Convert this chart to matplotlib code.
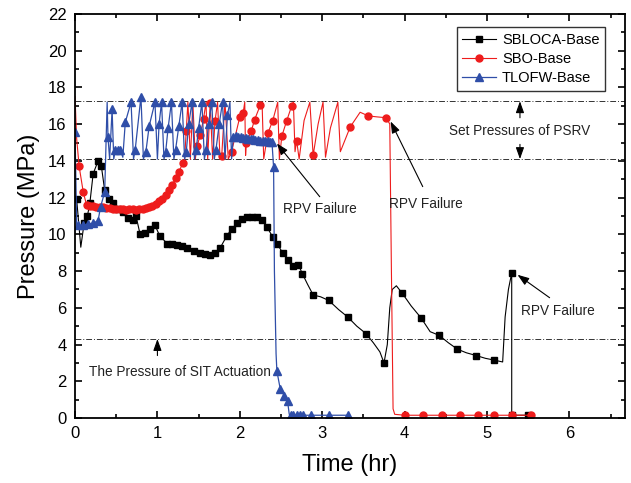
import matplotlib
matplotlib.use('Agg')
import matplotlib.pyplot as plt
from matplotlib.ticker import MultipleLocator

plt.rcParams['font.family'] = ['Liberation Sans', 'DejaVu Sans']

# SBLOCA-Base (black squares); mark = 1 -> marker drawn on that point
sbloca_x = [0.02, 0.07, 0.11, 0.15, 0.18, 0.22, 0.28, 0.32, 0.36, 0.41, 0.46, 0.52, 0.58, 0.64, 0.70,
            0.74, 0.79, 0.85, 0.91, 0.97, 1.03, 1.12, 1.18, 1.24, 1.30, 1.36, 1.44, 1.52, 1.58, 1.64,
            1.70, 1.76, 1.84, 1.90, 1.97, 2.03, 2.09, 2.15, 2.21, 2.27, 2.33, 2.40, 2.45, 2.52, 2.58,
            2.65, 2.71, 2.76, 2.82, 2.89, 2.98, 3.08, 3.20, 3.31, 3.42, 3.53, 3.62, 3.70, 3.75, 3.79,
            3.82, 3.85, 3.90, 3.97, 4.08, 4.20, 4.31, 4.42, 4.53, 4.64, 4.75, 4.87, 4.98, 5.09, 5.19,
            5.22, 5.26, 5.30, 5.30, 5.50]
sbloca_y = [11.9, 9.3, 10.6, 11.0, 11.7, 13.3, 14.0, 13.7, 12.4, 11.9, 11.7, 11.4, 11.2, 10.9, 10.8,
            11.0, 10.0, 10.1, 10.3, 10.5, 9.9, 9.5, 9.5, 9.4, 9.35, 9.25, 9.1, 9.0, 8.95, 8.9,
            9.0, 9.25, 9.9, 10.3, 10.6, 10.85, 10.95, 10.95, 10.95, 10.8, 10.4, 9.85, 9.5, 9.0, 8.6,
            8.3, 8.35, 7.85, 7.3, 6.7, 6.6, 6.4, 5.9, 5.5, 5.0, 4.6, 4.1, 3.6, 3.0, 4.0,
            6.0, 7.0, 7.2, 6.8, 6.1, 5.45, 4.7, 4.5, 4.1, 3.75, 3.55, 3.4, 3.25, 3.15, 3.05,
            5.5, 7.0, 7.9, 0.15, 0.15]
sbloca_mark = [1, 0, 1, 1, 1, 1, 1, 1, 1, 1, 1, 1, 1, 1, 1,
               1, 1, 1, 1, 1, 1, 1, 1, 1, 1, 1, 1, 1, 1, 1,
               1, 1, 1, 1, 1, 1, 1, 1, 1, 1, 1, 1, 1, 1, 1,
               1, 1, 1, 0, 1, 0, 1, 0, 1, 0, 1, 0, 0, 1, 0,
               0, 0, 0, 1, 0, 1, 0, 1, 0, 1, 0, 1, 0, 1, 0,
               0, 0, 1, 1, 1]

# SBO-Base (red circles)
sbo_x = [0.00, 0.02, 0.05, 0.10, 0.14, 0.18, 0.22, 0.26, 0.30, 0.34, 0.38, 0.42, 0.46, 0.50, 0.54,
         0.58, 0.62, 0.66, 0.70, 0.74, 0.78, 0.82, 0.86, 0.90, 0.94, 0.98, 1.02, 1.06, 1.10, 1.14,
         1.18, 1.22, 1.26, 1.31, 1.33, 1.35, 1.37, 1.40, 1.43, 1.46, 1.48, 1.52, 1.56, 1.59, 1.61,
         1.64, 1.67, 1.70, 1.73, 1.76, 1.78, 1.82, 1.86, 1.90, 2.00, 2.04, 2.06, 2.07, 2.08, 2.14,
         2.18, 2.25, 2.27, 2.29, 2.34, 2.40, 2.46, 2.48, 2.51, 2.57, 2.63, 2.65, 2.67, 2.69, 2.72,
         2.78, 2.85, 2.89, 2.95, 3.01, 3.04, 3.10, 3.19, 3.22, 3.34, 3.46, 3.56, 3.66, 3.78, 3.82,
         3.84, 3.86, 3.88, 4.00, 4.22, 4.45, 4.67, 4.89, 5.09, 5.30, 5.53]
sbo_y = [17.5, 15.2, 13.7, 12.3, 11.6, 11.55, 11.55, 11.5, 11.5, 11.5, 11.45, 11.45, 11.4, 11.4, 11.4,
         11.4, 11.35, 11.4, 11.4, 11.35, 11.4, 11.4, 11.45, 11.5, 11.55, 11.65, 11.8, 11.95, 12.15, 12.4,
         12.7, 13.05, 13.4, 13.9, 14.1, 15.65, 17.2, 14.1, 17.2, 14.1, 14.8, 15.4, 16.3, 17.2, 14.1,
         17.15, 14.1, 16.2, 17.2, 14.1, 14.25, 17.2, 14.1, 14.5, 16.4, 16.6, 17.2, 14.3, 15.0, 15.65,
         16.25, 17.05, 17.2, 14.1, 15.5, 16.2, 17.2, 14.1, 15.35, 16.2, 17.0, 17.2, 14.5, 15.1, 14.1,
         16.2, 17.2, 14.3, 16.0, 17.2, 14.2, 15.8, 17.2, 14.5, 15.85, 16.65, 16.45, 16.4, 16.35, 16.0,
         8.0, 0.5, 0.2, 0.15, 0.15, 0.15, 0.15, 0.15, 0.15, 0.15, 0.15]
sbo_mark = [0, 0, 1, 1, 1, 1, 1, 1, 1, 1, 1, 1, 1, 1, 1,
            1, 1, 1, 1, 1, 1, 1, 1, 1, 1, 1, 1, 1, 1, 1,
            1, 1, 1, 1, 0, 1, 0, 0, 0, 0, 1, 1, 1, 0, 0,
            1, 0, 1, 0, 0, 1, 0, 0, 1, 1, 1, 0, 0, 1, 1,
            1, 1, 0, 0, 1, 1, 0, 0, 1, 1, 1, 0, 0, 1, 0,
            0, 0, 1, 0, 0, 0, 0, 0, 0, 1, 0, 1, 0, 1, 0,
            0, 0, 0, 1, 1, 1, 1, 1, 1, 1, 1]

# TLOFW-Base (blue triangles)
tlofw_x = [0.00, 0.02, 0.04, 0.10, 0.16, 0.22, 0.28, 0.31, 0.36, 0.39, 0.40, 0.42, 0.45, 0.47, 0.49,
           0.52, 0.55, 0.58, 0.61, 0.68, 0.71, 0.73, 0.80, 0.83, 0.86, 0.90, 0.97, 1.00, 1.02, 1.05,
           1.08, 1.10, 1.13, 1.17, 1.20, 1.22, 1.26, 1.30, 1.33, 1.35, 1.38, 1.42, 1.45, 1.47, 1.50,
           1.54, 1.57, 1.59, 1.62, 1.66, 1.69, 1.71, 1.75, 1.79, 1.82, 1.85, 1.88, 1.90, 1.92, 1.95,
           1.98, 2.01, 2.04, 2.07, 2.10, 2.13, 2.16, 2.19, 2.22, 2.25, 2.28, 2.31, 2.34, 2.37, 2.39,
           2.41, 2.42, 2.44, 2.45, 2.49, 2.54, 2.58, 2.60, 2.62, 2.65, 2.69, 2.73, 2.77, 2.86, 3.08,
           3.31]
tlofw_y = [15.6, 10.5, 10.5, 10.5, 10.55, 10.6, 10.75, 11.5, 12.3, 17.2, 15.3, 14.1, 16.8, 14.1, 14.6,
           14.6, 14.6, 14.2, 16.1, 17.2, 14.1, 14.6, 17.5, 14.1, 14.5, 15.9, 17.2, 14.1, 16.0, 17.2,
           14.1, 14.5, 15.8, 17.2, 14.1, 14.6, 15.9, 17.2, 14.1, 14.5, 16.0, 17.2, 14.1, 14.6, 15.8,
           17.2, 14.1, 14.6, 16.0, 17.2, 14.1, 14.6, 16.0, 17.2, 14.1, 16.5, 17.2, 14.1, 15.3, 15.35,
           15.3, 15.3, 15.25, 15.25, 15.2, 15.2, 15.2, 15.15, 15.15, 15.1, 15.1, 15.1, 15.1, 15.05, 15.05,
           13.65, 8.0, 3.5, 2.55, 1.6, 1.2, 0.9, 0.2, 0.15, 0.15, 0.15, 0.15, 0.15, 0.15, 0.15,
           0.15]
tlofw_mark = [1, 0, 1, 1, 1, 1, 1, 1, 1, 0, 1, 0, 1, 0, 1,
              1, 1, 0, 1, 1, 0, 1, 1, 0, 1, 1, 1, 0, 1, 1,
              0, 1, 1, 1, 0, 1, 1, 1, 0, 1, 1, 1, 0, 1, 1,
              1, 0, 1, 1, 1, 0, 1, 1, 1, 0, 1, 0, 0, 1, 1,
              1, 1, 1, 1, 1, 1, 1, 1, 1, 1, 1, 1, 1, 1, 1,
              1, 0, 0, 1, 1, 1, 1, 0, 1, 1, 1, 1, 1, 1, 1,
              1]

psrv_high = 17.25
psrv_low = 14.1
sit_level = 4.3

fig = plt.figure(figsize=(6.31, 4.83), dpi=100)
ax = fig.add_axes([0.1189, 0.1346, 0.8716, 0.8364])

ax.plot(sbloca_x, sbloca_y, color='black', lw=0.8, marker='s', ms=4.3,
        markevery=[bool(m) for m in sbloca_mark], label='SBLOCA-Base')
ax.plot(sbo_x, sbo_y, color='#ee1c1c', lw=0.8, marker='o', ms=5,
        markevery=[bool(m) for m in sbo_mark], label='SBO-Base')
ax.plot(tlofw_x, tlofw_y, color='#2f4ea8', lw=0.9, marker='^', ms=5.5,
        markevery=[bool(m) for m in tlofw_mark], label='TLOFW-Base')

for lvl in [psrv_high, psrv_low, sit_level]:
    ax.axhline(lvl, color='#333333', lw=0.7, ls=(0, (6, 2, 1, 2)), zorder=1)

arrow = dict(arrowstyle='-|>,head_width=0.25,head_length=0.7', color='black', lw=0.8,
             mutation_scale=10, shrinkA=0, shrinkB=0)
fs = 9.8
ax.text(5.4, 15.62, 'Set Pressures of PSRV', fontsize=fs, ha='center', va='center', color='#222222')
ax.annotate('', xy=(5.4, psrv_high), xytext=(5.4, 16.35), arrowprops=arrow)
ax.annotate('', xy=(5.4, psrv_low), xytext=(5.4, 14.9), arrowprops=arrow)

ax.text(1.27, 2.5, 'The Pressure of SIT Actuation', fontsize=fs, ha='center', va='center', color='#222222')
ax.annotate('', xy=(1.0, sit_level), xytext=(1.0, 3.4), arrowprops=arrow)

ax.text(2.97, 11.4, 'RPV Failure', fontsize=fs, ha='center', va='center', color='#222222')
ax.annotate('', xy=(2.45, 14.95), xytext=(2.97, 12.05), arrowprops=arrow)
ax.text(4.26, 11.65, 'RPV Failure', fontsize=fs, ha='center', va='center', color='#222222')
ax.annotate('', xy=(3.83, 16.15), xytext=(4.22, 12.6), arrowprops=arrow)
ax.text(5.86, 5.83, 'RPV Failure', fontsize=fs, ha='center', va='center', color='#222222')
ax.annotate('', xy=(5.37, 7.8), xytext=(5.76, 6.55), arrowprops=arrow)

ax.set_xlim(0, 6.675)
ax.set_ylim(0, 22)
ax.xaxis.set_major_locator(MultipleLocator(1))
ax.xaxis.set_minor_locator(MultipleLocator(0.5))
ax.yaxis.set_major_locator(MultipleLocator(2))
ax.yaxis.set_minor_locator(MultipleLocator(1))
ax.tick_params(which='both', direction='in', top=True, right=True, width=1.2, labelsize=12, pad=6)
ax.tick_params(which='major', length=5)
ax.tick_params(which='minor', length=3)
for s in ax.spines.values():
    s.set_linewidth(1.3)

ax.set_xlabel('Time (hr)', fontsize=17, labelpad=9)
ax.set_ylabel('Pressure (MPa)', fontsize=17, labelpad=6)

leg = ax.legend(loc='upper right', bbox_to_anchor=(0.964, 0.968), fontsize=10.5, frameon=True,
                fancybox=False, handlelength=2.3, borderpad=0.4, labelspacing=0.35,
                handletextpad=0.4, borderaxespad=0)
leg.get_frame().set_edgecolor('black')
leg.get_frame().set_linewidth(1.0)

fig.savefig('out.png', dpi=100)
